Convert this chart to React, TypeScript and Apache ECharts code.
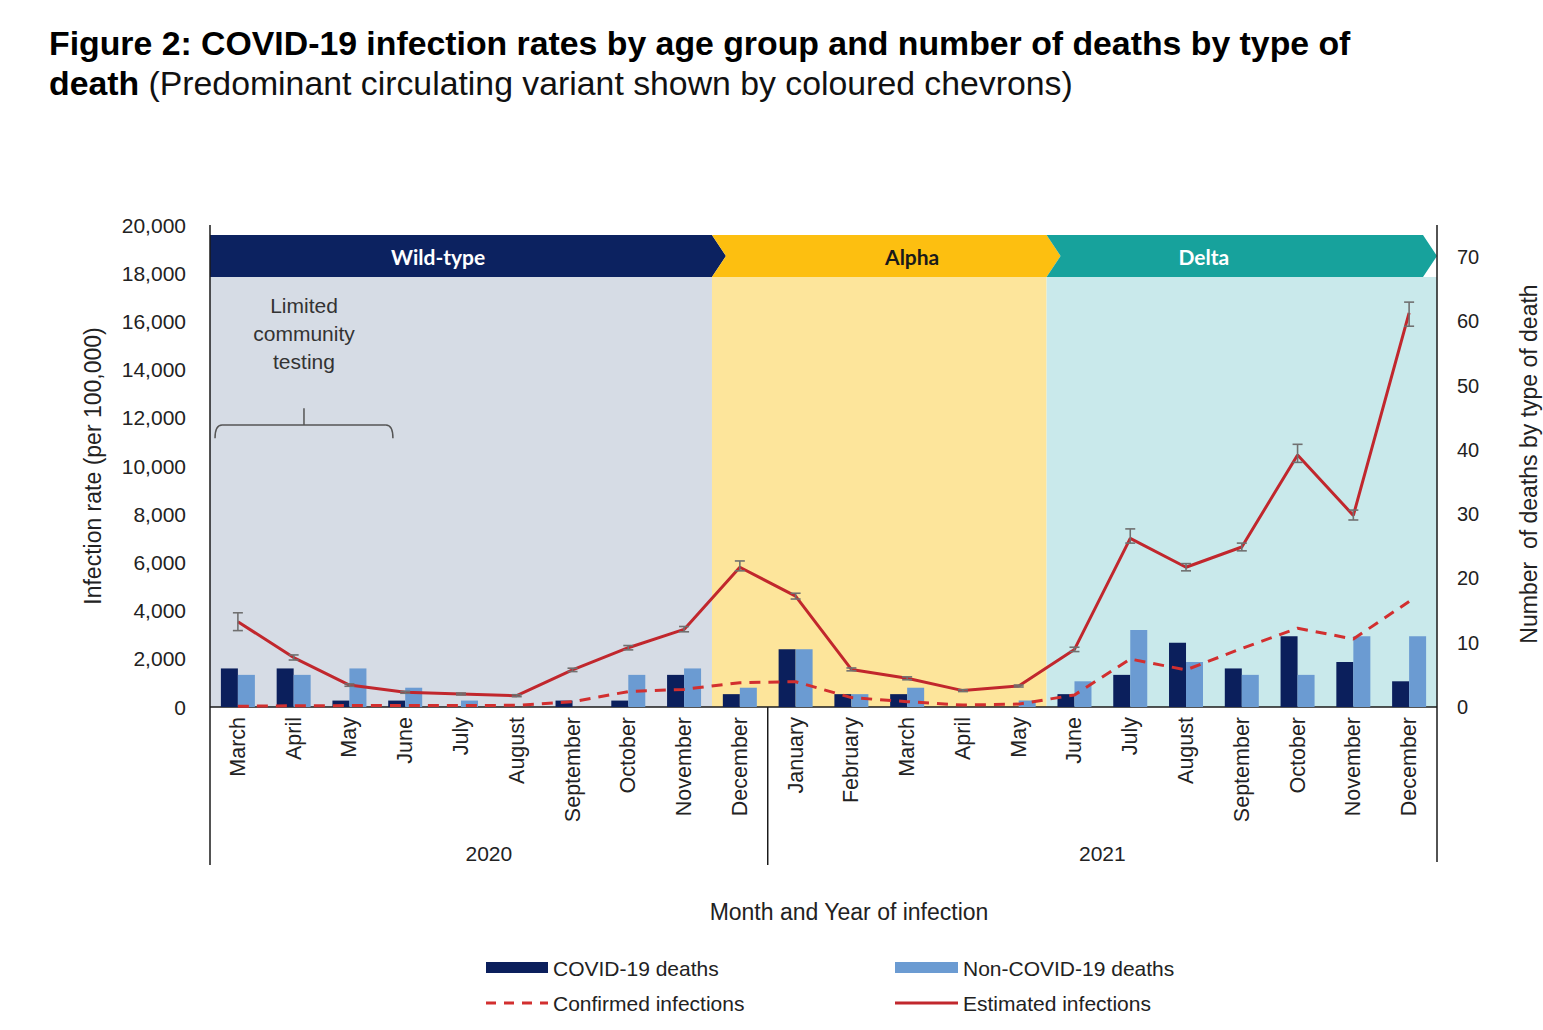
import React, { useEffect, useRef } from "react";
import * as echarts from "echarts";

const months = [
  "March", "April", "May", "June", "July", "August", "September", "October", "November", "December",
  "January", "February", "March", "April", "May", "June", "July", "August", "September", "October", "November", "December",
];
const years = ["2020", "2021"];
const yearStart = [0, 10];
const yearEnd = [10, 22];

const covidDeaths = [6, 6, 1, 1, 0, 0, 1, 1, 5, 2, 9, 2, 2, 0, 0, 2, 5, 10, 6, 11, 7, 4];
const nonCovidDeaths = [5, 5, 6, 3, 1, 0, 0, 5, 6, 3, 9, 2, 3, 0, 1, 4, 12, 7, 5, 5, 11, 11];
const confirmedInfections = [30, 50, 60, 60, 60, 70, 220, 640, 730, 1010, 1050, 390, 220, 80, 120, 500, 1990, 1540, 2430, 3270, 2820, 4380];
const estimatedInfections = [3540, 2050, 910, 610, 540, 470, 1540, 2460, 3220, 5800, 4600, 1560, 1190, 680, 870, 2390, 7000, 5800, 6640, 10460, 7950, 16350];
const estimatedLower = [3170, 1950, 860, 570, 500, 430, 1470, 2370, 3120, 5650, 4480, 1500, 1130, 640, 830, 2300, 6800, 5650, 6480, 10150, 7760, 15800];
const estimatedUpper = [3910, 2160, 960, 650, 580, 510, 1610, 2550, 3340, 6060, 4720, 1620, 1250, 720, 910, 2480, 7390, 5950, 6800, 10900, 8170, 16800];

const variants = ["Wild-type", "Alpha", "Delta"];
const variantStart = [0, 9, 15];
const variantEnd = [9, 15, 22];
const variantLabelAt = [3.59, 12.09, 17.32];
const variantHeader = ["#0c2260", "#fdbf10", "#17a29c"];
const variantBand = ["#d6dce5", "#fde59b", "#c9e9eb"];
const variantText = ["#ffffff", "#1a1a1a", "#ffffff"];

const leftMax = 20000;
const leftInterval = 2000;
const rightMax = 75;
const rightInterval = 10;

const FONT = "Liberation Sans, Arial, sans-serif";

function txt(x: number, y: number, text: string, opts: any = {}) {
  const align = opts.align || "center";
  const vAlign = opts.verticalAlign || "middle";
  return {
    type: "text",
    x,
    y,
    rotation: opts.rotation || 0,
    style: {
      text,
      fill: opts.fill || "#222",
      fontSize: opts.fontSize || 16,
      fontWeight: opts.fontWeight || "normal",
      fontFamily: opts.fontFamily || FONT,
      align,
      verticalAlign: vAlign,
      textAlign: align,
      textVerticalAlign: vAlign,
    },
  };
}

function renderDecor(params: any, api: any) {
  const cs = params.coordSys;
  const left = cs.x;
  const top = cs.y;
  const right = cs.x + cs.width;
  const bottom = cs.y + cs.height;
  const bw = api.size([1, 0])[0];
  const c0 = api.coord([0, 0])[0];
  // linear position for fractional category index
  const cx = (f: number) => c0 + f * bw;
  const edge = (i: number) => (i >= months.length ? right : cx(i) - bw / 2);
  const yv = (v: number) => api.coord([0, v])[1];
  const children: any[] = [];
  const hTop = top + 10;
  const hBot = top + 52;
  const hMid = (hTop + hBot) / 2;
  const d = 14;

  variants.forEach((_, k) => {
    const x0 = edge(variantStart[k]);
    const xe = edge(variantEnd[k]);
    children.push({
      type: "rect",
      shape: { x: x0, y: hBot, width: xe - x0, height: bottom - hBot },
      style: { fill: variantBand[k] },
    });
  });
  variants.forEach((name, k) => {
    const x0 = edge(variantStart[k]);
    const isLast = variantEnd[k] >= months.length;
    const x1 = isLast ? right - d : edge(variantEnd[k]);
    const pts: number[][] = [[x0, hTop], [x1, hTop], [x1 + d, hMid], [x1, hBot], [x0, hBot]];
    if (k > 0) pts.push([x0 + d, hMid]);
    children.push({ type: "polygon", shape: { points: pts }, style: { fill: variantHeader[k] } });
    children.push(
      txt(cx(variantLabelAt[k]), hMid, name, {
        fill: variantText[k],
        fontSize: 21,
        fontWeight: "bold",
        fontFamily: "Lato, Open Sans, sans-serif",
      })
    );
  });

  // Limited community testing annotation
  const bx0 = cx(-0.41);
  const bx1 = cx(2.78);
  const bm = (bx0 + bx1) / 2;
  const by = yv(11700);
  const byEnd = yv(11150);
  const byTick = yv(12400);
  const bStyle = { stroke: "#555", lineWidth: 1.5, fill: null };
  children.push({ type: "bezierCurve", shape: { x1: bx0, y1: byEnd, x2: bx0 + 7, y2: by, cpx1: bx0, cpy1: by }, style: bStyle });
  children.push({ type: "line", shape: { x1: bx0 + 7, y1: by, x2: bx1 - 7, y2: by }, style: bStyle });
  children.push({ type: "bezierCurve", shape: { x1: bx1 - 7, y1: by, x2: bx1, y2: byEnd, cpx1: bx1, cpy1: by }, style: bStyle });
  children.push({ type: "line", shape: { x1: bm, y1: by, x2: bm, y2: byTick }, style: bStyle });
  ["Limited", "community", "testing"].forEach((t, i) => {
    children.push(txt(bm, yv(16640 - i * 1160), t, { fontSize: 21, fill: "#333" }));
  });

  // frame lines
  const ext = 158;
  const lStyle = { stroke: "#1a1a1a", lineWidth: 1.5 };
  children.push({ type: "line", shape: { x1: left, y1: top, x2: left, y2: bottom + ext }, style: lStyle });
  children.push({ type: "line", shape: { x1: right, y1: top, x2: right, y2: bottom + ext - 3 }, style: lStyle });
  children.push({ type: "line", shape: { x1: left, y1: bottom, x2: right, y2: bottom }, style: lStyle });
  years.forEach((y, k) => {
    const a = edge(yearStart[k]);
    const b = edge(yearEnd[k]);
    if (k > 0) children.push({ type: "line", shape: { x1: a, y1: bottom, x2: a, y2: bottom + ext }, style: lStyle });
    children.push(txt((a + b) / 2, bottom + 146, y, { fontSize: 21 }));
  });

  return { type: "group", children };
}

function renderErrorBars(params: any, api: any) {
  const x = api.coord([api.value(0), api.value(1)])[0];
  const lo = api.coord([api.value(0), api.value(1)])[1];
  const hi = api.coord([api.value(0), api.value(2)])[1];
  const style = { stroke: "#707070", lineWidth: 1.6 };
  const cap = 5;
  return {
    type: "group",
    children: [
      { type: "line", shape: { x1: x, y1: lo, x2: x, y2: hi }, style },
      { type: "line", shape: { x1: x - cap, y1: lo, x2: x + cap, y2: lo }, style },
      { type: "line", shape: { x1: x - cap, y1: hi, x2: x + cap, y2: hi }, style },
    ],
  };
}

export default function App() {
  const ref = useRef<HTMLDivElement>(null);
  useEffect(() => {
    document.body.style.margin = "0";
    const chart = echarts.init(ref.current!, null, { renderer: "svg" });
    const errData = months.map((_, i) => [i, estimatedLower[i], estimatedUpper[i]]);
    const option: any = {
      animation: false,
      backgroundColor: "#ffffff",
      textStyle: { fontFamily: FONT },
      title: {
        left: 44,
        top: 18,
        text:
          "{b|Figure 2: COVID-19 infection rates by age group and number of deaths by type of}\n{b|death}{n| (Predominant circulating variant shown by coloured chevrons)}",
        textStyle: {
          fontWeight: "normal",
          rich: {
            b: { fontSize: 33.8, fontWeight: "bold", fontFamily: FONT, color: "#000", lineHeight: 40 },
            n: { fontSize: 33.8, fontWeight: "normal", fontFamily: FONT, color: "#111", lineHeight: 40 },
          },
        },
      },
      grid: { left: 210, right: 106, top: 225, bottom: 323, containLabel: false },
      xAxis: {
        type: "category",
        data: months,
        axisLine: { show: false },
        axisTick: { show: false },
        axisLabel: { rotate: 90, fontSize: 21.5, color: "#222", margin: 10, interval: 0, fontFamily: FONT },
        splitLine: { show: false },
      },
      yAxis: [
        {
          type: "value",
          min: 0,
          max: leftMax,
          interval: leftInterval,
          axisLine: { show: false },
          axisTick: { show: false },
          splitLine: { show: false },
          axisLabel: {
            fontSize: 21,
            color: "#222",
            margin: 24,
            fontFamily: FONT,
            formatter: (v: number) => v.toLocaleString("en-US"),
          },
        },
        {
          type: "value",
          min: 0,
          max: rightMax,
          interval: rightInterval,
          axisLine: { show: false },
          axisTick: { show: false },
          splitLine: { show: false },
          axisLabel: { fontSize: 20, color: "#222", margin: 20, fontFamily: FONT, showMaxLabel: false },
        },
      ],
      series: [
        { type: "custom", name: "decor", renderItem: renderDecor, data: [[0, 0]], z: 1, silent: true, clip: false },
        {
          type: "bar",
          name: "COVID-19 deaths",
          yAxisIndex: 1,
          data: covidDeaths,
          barWidth: 17,
          barGap: "0%",
          itemStyle: { color: "#0b1f5c" },
          z: 2,
        },
        {
          type: "bar",
          name: "Non-COVID-19 deaths",
          yAxisIndex: 1,
          data: nonCovidDeaths,
          barWidth: 17,
          barGap: "0%",
          itemStyle: { color: "#6b9bd2" },
          z: 2,
        },
        {
          type: "line",
          name: "Confirmed infections",
          yAxisIndex: 0,
          data: confirmedInfections,
          showSymbol: false,
          symbol: "none",
          lineStyle: { color: "#d22f2f", width: 3, type: [11, 8] },
          z: 3,
        },
        {
          type: "line",
          name: "Estimated infections",
          yAxisIndex: 0,
          data: estimatedInfections,
          showSymbol: false,
          symbol: "none",
          lineStyle: { color: "#c1272d", width: 3 },
          z: 3,
        },
        {
          type: "custom",
          name: "Estimated range",
          yAxisIndex: 0,
          renderItem: renderErrorBars,
          data: errData,
          encode: { x: 0, y: [1, 2] },
          z: 4,
          silent: true,
        },
      ],
      graphic: [
        txt(93, 466, "Infection rate (per 100,000)", { rotation: Math.PI / 2, fontSize: 23 }),
        txt(1529, 464, "Number  of deaths by type of death", { rotation: Math.PI / 2, fontSize: 23 }),
        txt(849, 912, "Month and Year of infection", { fontSize: 23 }),
        { type: "rect", shape: { x: 486, y: 962, width: 62, height: 11 }, style: { fill: "#0b1f5c" } },
        txt(553, 968, "COVID-19 deaths", { align: "left", fontSize: 21 }),
        { type: "rect", shape: { x: 895, y: 962, width: 63, height: 11 }, style: { fill: "#6b9bd2" } },
        txt(963, 968, "Non-COVID-19 deaths", { align: "left", fontSize: 21 }),
        { type: "line", shape: { x1: 486, y1: 1003, x2: 548, y2: 1003 }, style: { stroke: "#d22f2f", lineWidth: 3, lineDash: [10, 8] } },
        txt(553, 1003, "Confirmed infections", { align: "left", fontSize: 21 }),
        { type: "line", shape: { x1: 895, y1: 1003, x2: 958, y2: 1003 }, style: { stroke: "#c1272d", lineWidth: 3 } },
        txt(963, 1003, "Estimated infections", { align: "left", fontSize: 21 }),
      ],
    };
    chart.setOption(option);
    return () => chart.dispose();
  }, []);
  return <div ref={ref} style={{ width: 1543, height: 1030 }} />;
}
